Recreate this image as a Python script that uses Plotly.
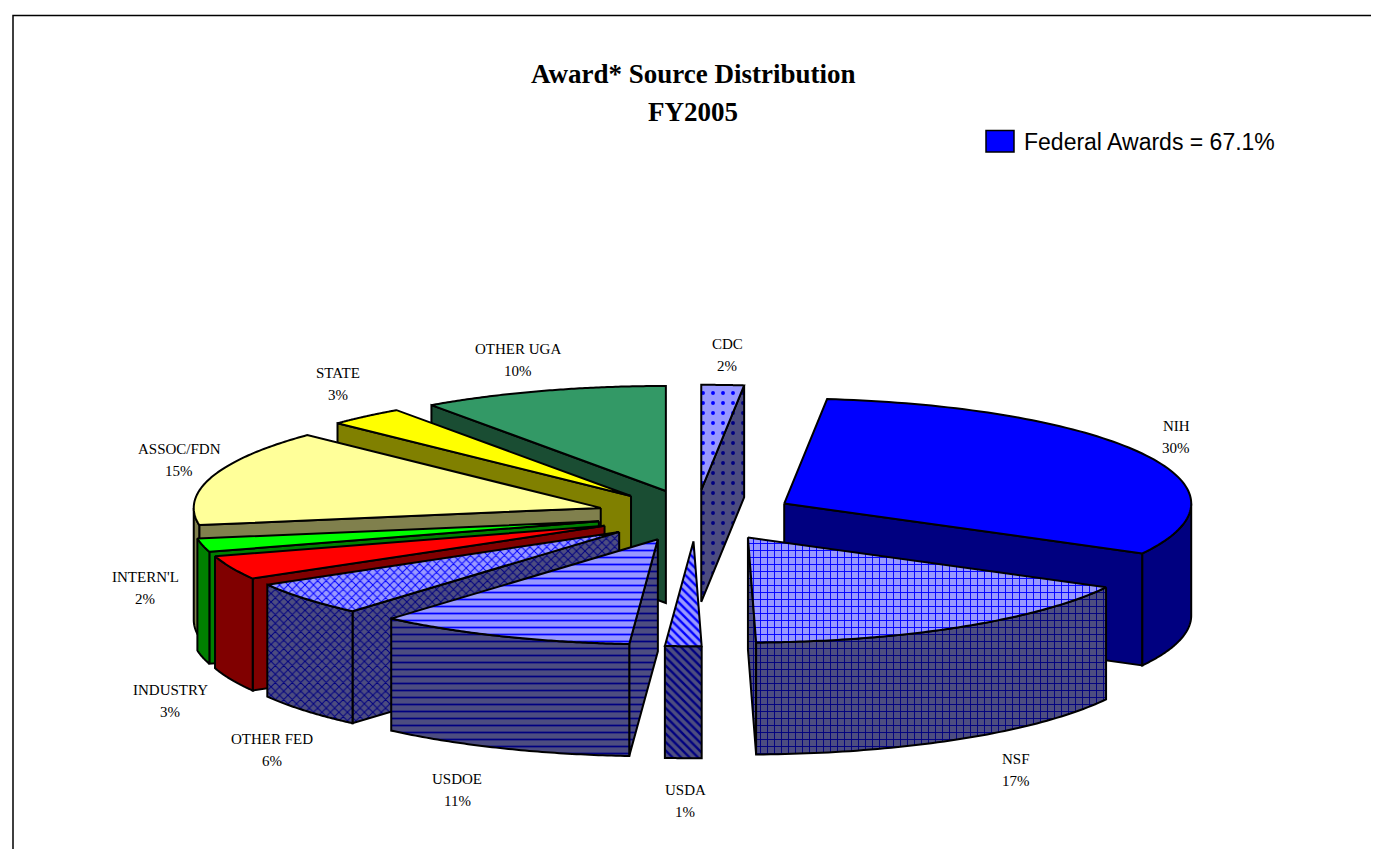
import numpy as np
import plotly.graph_objects as go

# ---- data (clockwise from 12 o'clock) ----
categories = ["CDC", "NIH", "NSF", "USDA", "USDOE", "OTHER FED", "INDUSTRY",
              "INTERN'L", "ASSOC/FDN", "STATE", "OTHER UGA"]
shares = [1.68, 31.2, 16.8, 1.44, 10.25, 5.25, 3.7, 2.06, 14.8, 3.05, 9.77]
percent_labels = ["2%", "30%", "17%", "1%", "11%", "6%", "3%", "2%", "15%", "3%", "10%"]
title_lines = ["Award* Source Distribution", "FY2005"]
legend_text = "Federal Awards = 67.1%"

# ---- styles ----
top_colors = ["#9999FF", "#0000FF", "#9999FF", "#9999FF", "#9999FF", "#9999FF",
              "#FF0000", "#00FF00", "#FFFF99", "#FFFF00", "#339966"]
wall_colors = ["#4D4D80", "#000080", "#4D4D80", "#4D4D80", "#4D4D80", "#4D4D80",
               "#800000", "#008000", "#80804D", "#808000", "#1A4D33"]
pattern_shapes = [".", "", "+", "\\", "-", "x", "", "", "", "", ""]
pattern_sizes = [10, 0, 7, 6, 7, 6, 0, 0, 0, 0, 0]
pattern_solid = [0.12, 0, 0.25, 0.4, 0.25, 0.3, 0, 0, 0, 0, 0]

# ---- projection of the exploded pie onto the page ----
CX, CY, RX, RY, DEPTH, EXPLODE = 688, 507.5, 407, 105, 112, 0.245

# label anchors on the page: (x, y of first line, y of second line)
label_pos = [(719, 336, 358), (1168, 418, 440), (1008, 751, 773), (677, 782, 804),
             (449, 771, 793), (264, 731, 753), (162, 682, 704), (137, 569, 591),
             (171, 441, 463), (330, 365, 387), (510, 341, 363)]

edges = np.cumsum([0] + shares) / sum(shares) * 2 * np.pi


def rim(theta, apex):
    return apex[0] + RX * np.sin(theta), apex[1] - RY * np.cos(theta)


fig = go.Figure()


def face(xs, ys, fill, i, name):
    pat = None
    if pattern_shapes[i]:
        fg = "#0000FF" if fill == top_colors[i] else "#000080"
        pat = dict(shape=pattern_shapes[i], size=pattern_sizes[i],
                   solidity=pattern_solid[i], fgcolor=fg, bgcolor=fill, fillmode="replace")
    fig.add_trace(go.Scatter(
        x=list(xs) + [xs[0]], y=list(ys) + [ys[0]], mode="lines", fill="toself",
        fillcolor=fill, fillpattern=pat, name=name, showlegend=False, hoverinfo="name",
        line=dict(color="black", width=2, simplify=False)))


mids = (edges[:-1] + edges[1:]) / 2
order = np.argsort(-np.cos(mids))

for i in order:
    t0, t1, mid = edges[i], edges[i + 1], mids[i]
    apex = (CX + EXPLODE * RX * np.sin(mid), CY - EXPLODE * RY * np.cos(mid))
    name = categories[i]

    # radial walls facing the viewer
    for t, visible in ((t0, -np.sin(t0) > 0), (t1, np.sin(t1) > 0)):
        if visible:
            px, py = rim(t, apex)
            face([apex[0], px, px, apex[0]], [apex[1], py, py + DEPTH, apex[1] + DEPTH],
                 wall_colors[i], i, name)

    # outer wall: the part of the arc on the near side
    lo, hi = max(t0, np.pi / 2), min(t1, 3 * np.pi / 2)
    if hi > lo:
        ts = np.linspace(lo, hi, 60)
        ax, ay = rim(ts, apex)
        face(np.r_[ax, ax[::-1]], np.r_[ay, ay[::-1] + DEPTH], wall_colors[i], i, name)

    # top face
    ts = np.linspace(t0, t1, 90)
    ax, ay = rim(ts, apex)
    face(np.r_[apex[0], ax], np.r_[apex[1], ay], top_colors[i], i, name)

annotations = []
for name, pct, (lx, y1, y2) in zip(categories, percent_labels, label_pos):
    for txt, ly in ((name, y1), (pct, y2)):
        annotations.append(dict(x=lx, y=ly, text=txt, showarrow=False, xref="x", yref="y",
                                font=dict(family="Liberation Serif", size=15, color="black")))
for txt, ly in zip(title_lines, (66, 104)):
    annotations.append(dict(x=685, y=ly, text=f"<b>{txt}</b>", showarrow=False, xref="x", yref="y",
                            font=dict(family="Liberation Serif", size=27, color="black")))
annotations.append(dict(x=1014, y=134, text=legend_text, showarrow=False, xref="x", yref="y",
                        xanchor="left",
                        font=dict(family="Liberation Sans", size=23, color="black")))

fig.update_layout(
    width=1379, height=849, autosize=False,
    margin=dict(l=0, r=0, t=0, b=0), paper_bgcolor="white", plot_bgcolor="white",
    xaxis=dict(range=[0, 1379], visible=False, fixedrange=True),
    yaxis=dict(range=[849, 0], visible=False, fixedrange=True),
    annotations=annotations,
    shapes=[
        dict(type="rect", xref="x", yref="y", x0=5, y0=7.5, x1=1375, y1=900,
             line=dict(color="black", width=1.5)),
        dict(type="rect", xref="x", yref="y", x0=978, y0=122.5, x1=1006, y1=144,
             fillcolor="#0000FF", line=dict(color="black", width=1.5)),
    ],
)

fig.write_html("out.html", config={"displayModeBar": False})
